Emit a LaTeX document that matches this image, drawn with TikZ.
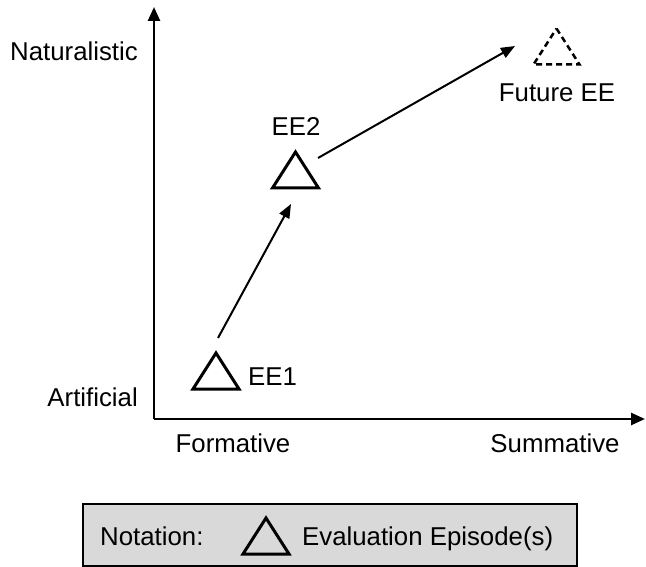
\documentclass[tikz,border=0pt]{standalone}
\usepackage{fontspec}
\setmainfont{Liberation Sans}
\usetikzlibrary{arrows.meta}
\begin{document}
\begin{tikzpicture}[x=1pt,y=-1pt,
  lbl/.style={font=\fontsize{25.8}{30}\selectfont,inner sep=0pt,anchor=base},
  axis/.style={line width=2.5pt,-{Triangle[length=14pt,width=12pt]}},
  conn/.style={line width=2pt,-{Triangle[length=14pt,width=11pt]}},
  tristyle/.style={line width=3pt,line join=miter},
  pics/tri/.style={code={\draw[tristyle,#1] (0,-18)--(23,18)--(-23,18)--cycle;}},
  pics/tri/.default={}
]
\useasboundingbox (0,0) rectangle (646,567);
% axes
\coordinate (o) at (154,419);
\coordinate (ytip) at (154,7);
\coordinate (xtip) at (645,419);
\draw[axis] (o) -- (ytip);
\draw[axis] (o) -- (xtip);
% axis labels
\node[lbl,anchor=base east] (nat) at (138,61) {Naturalistic};
\node[lbl,anchor=base east] (art) at (138,406) {Artificial};
\node[lbl] (form) at (233,452) {Formative};
\node[lbl] (summ) at (555,452) {Summative};
% episodes
\pic at (216,371) {tri};
\pic at (295.5,170) {tri};
\pic at (556.5,46.5) {tri={dash pattern=on 6pt off 4pt,line width=2.5pt}};
\node[lbl,anchor=base west] (ee1) at (248,385) {EE1};
\node[lbl] (ee2) at (296,136) {EE2};
\node[lbl] (fee) at (557,102) {Future EE};
% connectors
\coordinate (a1s) at (218,338);
\coordinate (a1e) at (291,204);
\coordinate (a2s) at (318,158);
\coordinate (a2e) at (515,46);
\draw[conn] (a1s) -- (a1e);
\draw[conn] (a2s) -- (a2e);
% legend
\node[draw=black,fill={rgb,255:red,217;green,217;blue,217},line width=2pt,minimum width=494pt,minimum height=62pt,inner sep=0pt] (legend) at (330,535) {};
\node[lbl,anchor=base west] (not) at (100,545) {Notation:};
\pic at (266,536) {tri};
\node[lbl,anchor=base west] (evl) at (302,545) {Evaluation Episode(s)};
\end{tikzpicture}
\end{document}
